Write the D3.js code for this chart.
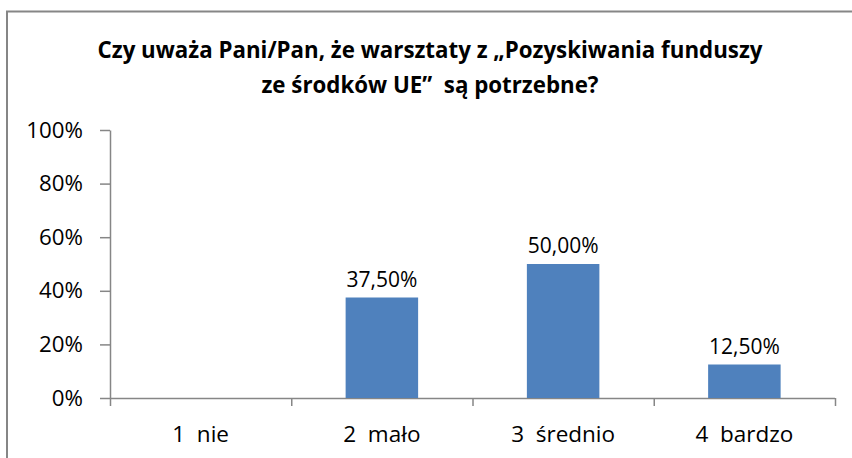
<!DOCTYPE html>
<html>
<head>
<meta charset="UTF-8">
<title>Czy uważa Pani/Pan</title>
<style>
    body { margin: 0; background: #fff; }
    text { font-family: "Open Sans", sans-serif; fill: #000; white-space: pre; }
    .axis path, .axis line { stroke: #868686; stroke-width: 1.5; }
    .title { font-weight: bold; font-size: 22.3px; }
</style>
</head>
<body>
<script src="https://cdn.jsdelivr.net/npm/d3@7"></script>
<script>
    // data
    var categories = ["1  nie", "2  mało", "3  średnio", "4  bardzo"];
    var values = [0, 0.375, 0.5, 0.125];
    var valueLabels = ["", "37,50%", "50,00%", "12,50%"];
    var yTicks = [0, 0.2, 0.4, 0.6, 0.8, 1];
    var titleLines = ["Czy uważa Pani/Pan, że warsztaty z „Pozyskiwania funduszy", "ze środków UE”  są potrzebne?"];

    var W = 852, H = 458;
    var margin = {top: 130, right: 17, bottom: 60, left: 110};
    var width = W - margin.left - margin.right,
        height = 398 - margin.top;

    var svg = d3.select("body").append("svg")
        .attr("width", W)
        .attr("height", H);

    // chart frame
    svg.append("rect")
        .attr("x", 7).attr("y", 11.5)
        .attr("width", W + 10).attr("height", H + 10)
        .attr("fill", "none")
        .attr("stroke", "#868686")
        .attr("stroke-width", 2);

    svg.selectAll(".title")
        .data(titleLines)
        .enter().append("text")
        .attr("class", "title")
        .attr("x", 430)
        .attr("y", function (d, i) { return 58 + i * 35; })
        .attr("text-anchor", "middle")
        .text(function (d) { return d; });

    var g = svg.append("g")
        .attr("transform", "translate(" + margin.left + "," + margin.top + ")");

    var x = d3.scaleBand()
        .domain(categories)
        .range([0, width])
        .paddingInner(0.6)
        .paddingOuter(0.3);

    var xEdge = d3.scaleLinear()
        .domain([0, categories.length])
        .range([0, width]);

    var y = d3.scaleLinear()
        .domain([0, 1])
        .range([height, 0]);

    // y axis
    var yAxis = g.append("g")
        .attr("class", "axis")
        .call(d3.axisLeft(y).tickValues(yTicks).tickSize(10).tickSizeOuter(0).tickPadding(17)
            .tickFormat(d3.format(".0%")));
    yAxis.selectAll("text").style("font-size", "22.3px").style("font-family", "'Open Sans', sans-serif");

    // x axis line with ticks at band edges
    var xAxis = g.append("g")
        .attr("class", "axis")
        .attr("transform", "translate(0," + height + ")")
        .call(d3.axisBottom(xEdge).tickValues(d3.range(categories.length + 1)).tickSize(8).tickSizeOuter(0).tickFormat(""));
    xAxis.select(".domain").attr("d", "M0,0.5H" + width);

    g.selectAll(".cat")
        .data(categories)
        .enter().append("text")
        .attr("class", "cat")
        .attr("x", function (d) { return x(d) + x.bandwidth() / 2; })
        .attr("y", height + 44)
        .attr("text-anchor", "middle")
        .style("font-size", "22.5px")
        .text(function (d) { return d; });

    // bars
    g.selectAll(".bar")
        .data(values)
        .enter().append("rect")
        .attr("class", "bar")
        .attr("x", function (d, i) { return x(categories[i]); })
        .attr("width", x.bandwidth())
        .attr("y", function (d) { return y(d); })
        .attr("height", function (d) { return height - y(d); })
        .attr("fill", "#4f81bd");

    g.selectAll(".lbl")
        .data(values)
        .enter().append("text")
        .attr("class", "lbl")
        .attr("x", function (d, i) { return x(categories[i]) + x.bandwidth() / 2; })
        .attr("y", function (d) { return y(d) - 11; })
        .attr("text-anchor", "middle")
        .style("font-size", "21px")
        .text(function (d, i) { return valueLabels[i]; });
</script>
</body>
</html>
